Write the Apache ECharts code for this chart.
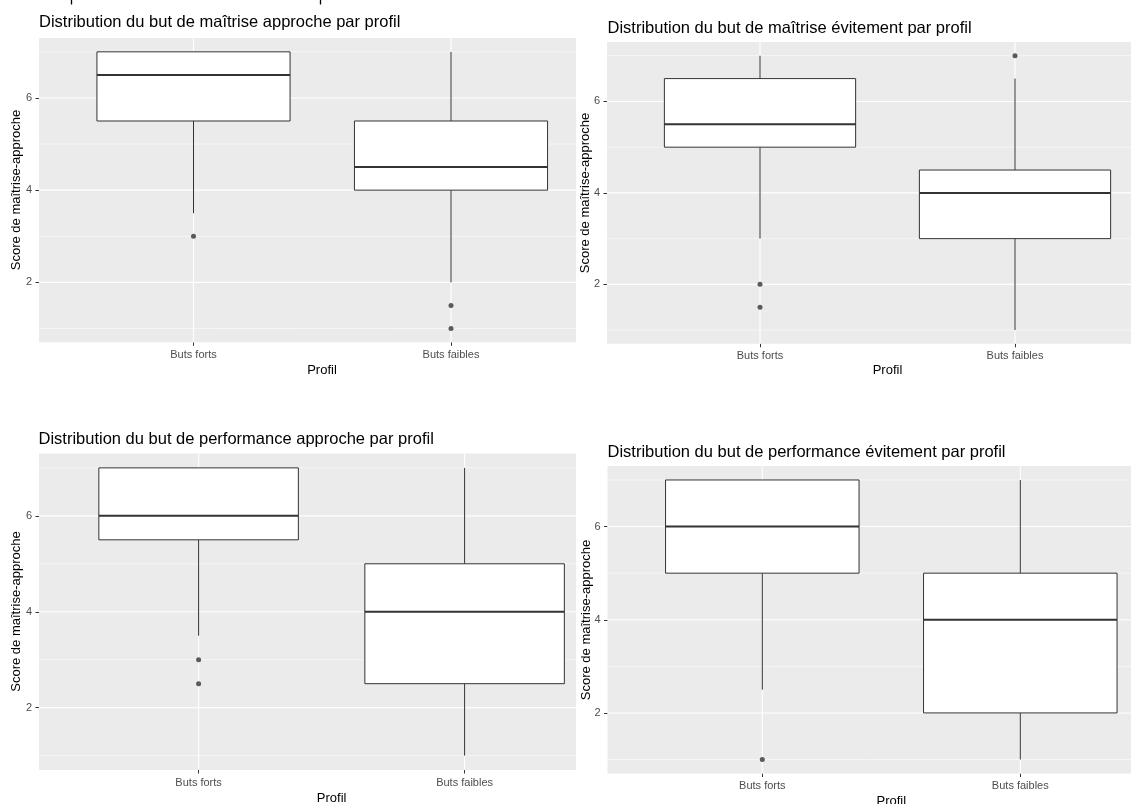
<!DOCTYPE html>
<html>
<head>
<meta charset="utf-8">
<script src="https://cdn.jsdelivr.net/npm/echarts@6/dist/echarts.min.js"></script>
<style>
html,body{margin:0;padding:0;background:#ffffff;}
#chart{width:1131px;height:804px;}
</style>
</head>
<body>
<div id="chart"></div>
<script>
// ---------------- DATA ----------------
const categories = ['Buts forts', 'Buts faibles'];
const panelTitles = [
  'Distribution du but de maîtrise approche par profil',
  'Distribution du but de maîtrise évitement par profil',
  'Distribution du but de performance approche par profil',
  'Distribution du but de performance évitement par profil'
];
const yAxisTitle = 'Score de maîtrise-approche';
const xAxisTitle = 'Profil';
const yTickValues = [2, 4, 6];
const yMinorGridValues = [1, 3, 5, 7];

// box statistics per category: [lower whisker, Q1, median, Q3, upper whisker]
const maitriseApprocheBoxes = [[3.5, 5.5, 6.5, 7, 7], [2, 4, 4.5, 5.5, 7]];
const maitriseEvitementBoxes = [[3, 5, 5.5, 6.5, 7], [1, 3, 4, 4.5, 6.5]];
const performanceApprocheBoxes = [[3.5, 5.5, 6, 7, 7], [1, 2.5, 4, 5, 7]];
const performanceEvitementBoxes = [[2.5, 5, 6, 7, 7], [1, 2, 4, 5, 7]];

// outliers: [category position (1 = Buts forts, 2 = Buts faibles), score]
const maitriseApprocheOutliers = [[1, 3], [2, 1.5], [2, 1]];
const maitriseEvitementOutliers = [[1, 2], [1, 1.5], [2, 7]];
const performanceApprocheOutliers = [[1, 3], [1, 2.5]];
const performanceEvitementOutliers = [[1, 1]];

// ---------------- LAYOUT ----------------
const Y_MIN = 0.7, Y_MAX = 7.3, X_MIN = 0.4, BOX_WIDTH = 0.75;
const LAYOUT = [
  {left: 39,    top: 38,    width: 537,   height: 304.3, unit: 257.5, title: [39, 22],      yTitle: [16.5, 190],   xTitle: [322, 370.8]},
  {left: 607,   top: 42,    width: 524,   height: 301.8, unit: 255,   title: [607.5, 28],   yTitle: [585, 193],    xTitle: [887.5, 370.8]},
  {left: 39,    top: 453.5, width: 537,   height: 316.5, unit: 266,   title: [38.5, 439.3], yTitle: [16.5, 611.5], xTitle: [331.6, 798]},
  {left: 607.5, top: 466,   width: 523.5, height: 307.5, unit: 258,   title: [607.5, 452.3],yTitle: [586, 620],    xTitle: [891.3, 801.5]}
];
const panels = [
  {boxes: maitriseApprocheBoxes, outliers: maitriseApprocheOutliers},
  {boxes: maitriseEvitementBoxes, outliers: maitriseEvitementOutliers},
  {boxes: performanceApprocheBoxes, outliers: performanceApprocheOutliers},
  {boxes: performanceEvitementBoxes, outliers: performanceEvitementOutliers}
];

const FONT = '"Liberation Sans", Arial, sans-serif';
const LINE = '#333333';

function renderGridLine(params, api) {
  const cs = params.coordSys;
  const v = api.value(0), dir = api.value(1), major = api.value(2);
  const w = major ? 1.1 : 0.55;
  if (dir === 0) {
    const y = api.coord([1, v])[1];
    return {type: 'line', silent: true, shape: {x1: cs.x, y1: y, x2: cs.x + cs.width, y2: y}, style: {stroke: '#ffffff', lineWidth: w}};
  }
  const x = api.coord([v, 1])[0];
  return {type: 'line', silent: true, shape: {x1: x, y1: cs.y, x2: x, y2: cs.y + cs.height}, style: {stroke: '#ffffff', lineWidth: w}};
}

function renderBox(params, api) {
  const x = api.value(0);
  const low = api.coord([x, api.value(1)]);
  const q1 = api.coord([x, api.value(2)]);
  const med = api.coord([x, api.value(3)]);
  const q3 = api.coord([x, api.value(4)]);
  const high = api.coord([x, api.value(5)]);
  const halfW = api.size([BOX_WIDTH, 0])[0] / 2;
  const ls = {stroke: LINE, lineWidth: 1, fill: null};
  return {
    type: 'group',
    children: [
      {type: 'line', shape: {x1: low[0], y1: low[1], x2: q1[0], y2: q1[1]}, style: ls},
      {type: 'line', shape: {x1: q3[0], y1: q3[1], x2: high[0], y2: high[1]}, style: ls},
      {type: 'rect', shape: {x: q3[0] - halfW, y: q3[1], width: 2 * halfW, height: q1[1] - q3[1]},
        style: {fill: '#ffffff', stroke: LINE, lineWidth: 1}},
      {type: 'line', shape: {x1: med[0] - halfW, y1: med[1], x2: med[0] + halfW, y2: med[1]},
        style: {stroke: LINE, lineWidth: 2}}
    ]
  };
}

const gridLineData = []
  .concat(yTickValues.map(v => [v, 0, 1]))
  .concat(yMinorGridValues.map(v => [v, 0, 0]))
  .concat(categories.map((c, i) => [i + 1, 1, 1]));

const grids = [], xAxes = [], yAxes = [], series = [], graphics = [];
LAYOUT.forEach((L, i) => {
  grids.push({left: L.left, top: L.top, width: L.width, height: L.height,
    show: true, backgroundColor: '#EBEBEB', borderWidth: 0, containLabel: false});
  xAxes.push({
    type: 'value', gridIndex: i, min: X_MIN, max: X_MIN + L.width / L.unit,
    axisLine: {show: false}, splitLine: {show: false},
    axisTick: {show: true, customValues: [1, 2], length: 3.5, lineStyle: {color: LINE, width: 1}},
    axisLabel: {customValues: [1, 2], margin: 7, color: '#4D4D4D', fontSize: 11, fontFamily: FONT,
      formatter: v => (Math.abs(v - Math.round(v)) < 1e-9 && categories[Math.round(v) - 1]) || ''}
  });
  yAxes.push({
    type: 'value', gridIndex: i, min: Y_MIN, max: Y_MAX,
    axisLine: {show: false}, splitLine: {show: false},
    axisTick: {show: true, customValues: yTickValues, length: 3.5, lineStyle: {color: LINE, width: 1}},
    axisLabel: {customValues: yTickValues, margin: 7, color: '#4D4D4D', fontSize: 11, fontFamily: FONT,
      formatter: v => (yTickValues.indexOf(v) >= 0 ? String(v) : '')}
  });
  series.push({
    type: 'custom', xAxisIndex: i, yAxisIndex: i, z: 1, silent: true,
    renderItem: renderGridLine, data: gridLineData, encode: {x: 0, y: 0}
  });
  series.push({
    type: 'custom', xAxisIndex: i, yAxisIndex: i, z: 3, silent: true,
    renderItem: renderBox,
    data: panels[i].boxes.map((b, k) => [k + 1].concat(b)),
    encode: {x: 0, y: [1, 2, 3, 4, 5]}
  });
  series.push({
    type: 'scatter', xAxisIndex: i, yAxisIndex: i, z: 4, silent: true,
    symbol: 'circle', symbolSize: 5, itemStyle: {color: LINE},
    data: panels[i].outliers
  });
  graphics.push({type: 'text', x: L.title[0], y: L.title[1], silent: true,
    style: {text: panelTitles[i], fill: '#000000', font: '16.5px ' + FONT, align: 'left', verticalAlign: 'middle'}});
  graphics.push({type: 'text', x: L.yTitle[0], y: L.yTitle[1], rotation: Math.PI / 2, silent: true,
    style: {text: yAxisTitle, fill: '#000000', font: '13px ' + FONT, align: 'center', verticalAlign: 'middle'}});
  graphics.push({type: 'text', x: L.xTitle[0], y: L.xTitle[1], silent: true,
    style: {text: xAxisTitle, fill: '#000000', font: '13px ' + FONT, align: 'center', verticalAlign: 'middle'}});
});

// remnants of a cropped super-title at the very top edge
graphics.push({type: 'line', silent: true, shape: {x1: 71.5, y1: 0, x2: 71.5, y2: 4.5}, style: {stroke: '#000', lineWidth: 1.3}});
graphics.push({type: 'line', silent: true, shape: {x1: 320.5, y1: 0, x2: 320.5, y2: 4.5}, style: {stroke: '#000', lineWidth: 1.3}});

const chart = echarts.init(document.getElementById('chart'), null, {renderer: 'canvas'});
chart.setOption({
  backgroundColor: '#ffffff',
  animation: false,
  grid: grids,
  xAxis: xAxes,
  yAxis: yAxes,
  series: series,
  graphic: graphics
});
</script>
</body>
</html>
